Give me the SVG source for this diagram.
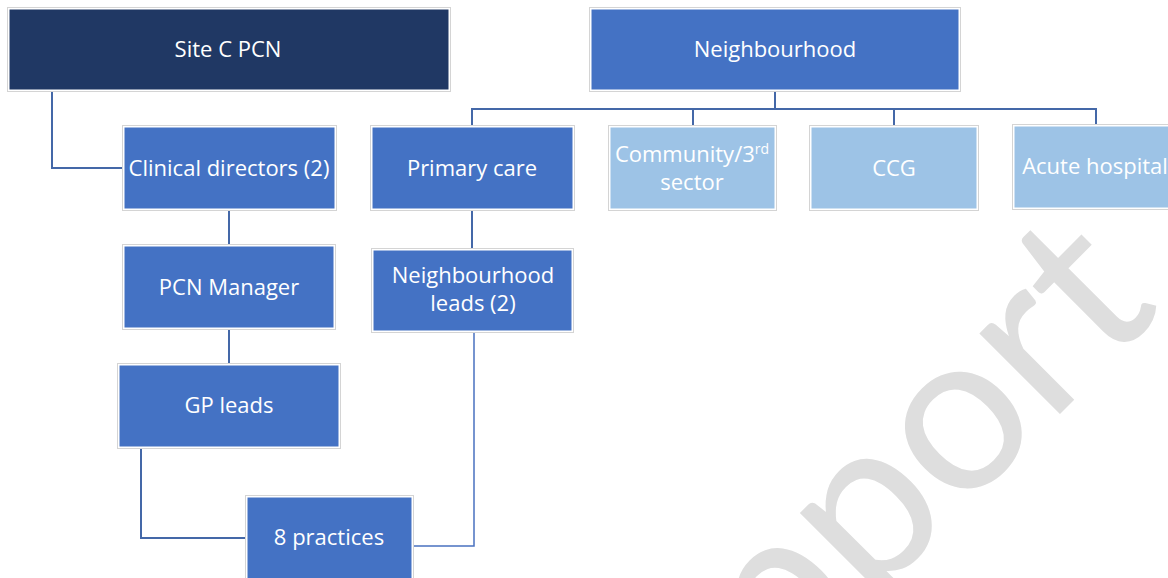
<svg xmlns="http://www.w3.org/2000/svg" width="1168" height="578" viewBox="0 0 1168 578">
  <style>
    .frame { fill: none; stroke: #d4d4d4; stroke-width: 1; }
    .dark { fill: #203864; stroke: #ffffff; stroke-width: 1; }
    .mid { fill: #4472C4; stroke: #ffffff; stroke-width: 1; }
    .light { fill: #9DC3E6; stroke: #ffffff; stroke-width: 1; }
    .lbl { font-family: "Open Sans", "Noto Sans", sans-serif; font-size: 22px; fill: #ffffff; text-anchor: middle; }
    .conn { fill: none; stroke: #4468A8; stroke-width: 2; }
    .conn2 { fill: none; stroke: #4A72C0; stroke-width: 1.5; }
    .wm { font-family: Lato, "Open Sans", sans-serif; font-size: 225px; fill: #dedede; }
  </style>

  <rect width="1168" height="578" fill="#ffffff"/>

  <g id="watermark">
    <text class="wm" transform="translate(780,694) rotate(-45)" x="0" y="0" textLength="543" lengthAdjust="spacingAndGlyphs">pport</text>
  </g>

  <g id="connectors">
    <polyline class="conn" points="52,91 52,168 123,168"/>
    <line class="conn" x1="229" y1="210" x2="229" y2="245"/>
    <line class="conn" x1="229" y1="329" x2="229" y2="364"/>
    <polyline class="conn" points="141,448 141,538 246,538"/>
    <line class="conn" x1="472" y1="210" x2="472" y2="249"/>
    <polyline class="conn2" points="474,332 474,546 413,546"/>
    <line class="conn" x1="775" y1="91" x2="775" y2="109"/>
    <polyline class="conn" points="472,126 472,109 1096,109 1096,125"/>
    <line class="conn" x1="693" y1="109" x2="693" y2="126"/>
    <line class="conn" x1="894" y1="109" x2="894" y2="126"/>
  </g>

  <g id="site-c-pcn">
    <rect class="frame" x="7.5" y="7.5" width="443" height="84"/>
    <rect class="dark" x="9" y="9" width="440" height="81"/>
    <text class="lbl" x="228" y="57">Site C PCN</text>
  </g>

  <g id="neighbourhood">
    <rect class="frame" x="589.5" y="7.5" width="371" height="84"/>
    <rect class="mid" x="591" y="9" width="368" height="81"/>
    <text class="lbl" x="775" y="57">Neighbourhood</text>
  </g>

  <g id="clinical-directors">
    <rect class="frame" x="122.5" y="125.5" width="214" height="85"/>
    <rect class="mid" x="124" y="127" width="211" height="82"/>
    <text class="lbl" x="229" y="176">Clinical directors (2)</text>
  </g>

  <g id="primary-care">
    <rect class="frame" x="370.5" y="125.5" width="204" height="85"/>
    <rect class="mid" x="372" y="127" width="201" height="82"/>
    <text class="lbl" x="472" y="176">Primary care</text>
  </g>

  <g id="community">
    <rect class="frame" x="608.5" y="125.5" width="168" height="85"/>
    <rect class="light" x="610" y="127" width="165" height="82"/>
    <text class="lbl" x="692" y="162">Community/3<tspan font-size="14" dy="-8">rd</tspan></text>
    <text class="lbl" x="692" y="190">sector</text>
  </g>

  <g id="ccg">
    <rect class="frame" x="809.5" y="125.5" width="169" height="85"/>
    <rect class="light" x="811" y="127" width="166" height="82"/>
    <text class="lbl" x="894" y="176">CCG</text>
  </g>

  <g id="acute-hospital">
    <rect class="frame" x="1012.5" y="124.5" width="170" height="85"/>
    <rect class="light" x="1014" y="126" width="167" height="82"/>
    <text class="lbl" x="1095" y="174">Acute hospital</text>
  </g>

  <g id="pcn-manager">
    <rect class="frame" x="122.5" y="244.5" width="213" height="85"/>
    <rect class="mid" x="124" y="246" width="210" height="82"/>
    <text class="lbl" x="229" y="295">PCN Manager</text>
  </g>

  <g id="neighbourhood-leads">
    <rect class="frame" x="371.5" y="248.5" width="202" height="84"/>
    <rect class="mid" x="373" y="250" width="199" height="81"/>
    <text class="lbl" x="473" y="283">Neighbourhood</text>
    <text class="lbl" x="473" y="311">leads (2)</text>
  </g>

  <g id="gp-leads">
    <rect class="frame" x="117.5" y="363.5" width="223" height="85"/>
    <rect class="mid" x="119" y="365" width="220" height="82"/>
    <text class="lbl" x="229" y="413">GP leads</text>
  </g>

  <g id="eight-practices">
    <rect class="frame" x="245.5" y="495.5" width="168" height="90"/>
    <rect class="mid" x="247" y="497" width="165" height="87"/>
    <text class="lbl" x="329" y="545">8 practices</text>
  </g>
</svg>
